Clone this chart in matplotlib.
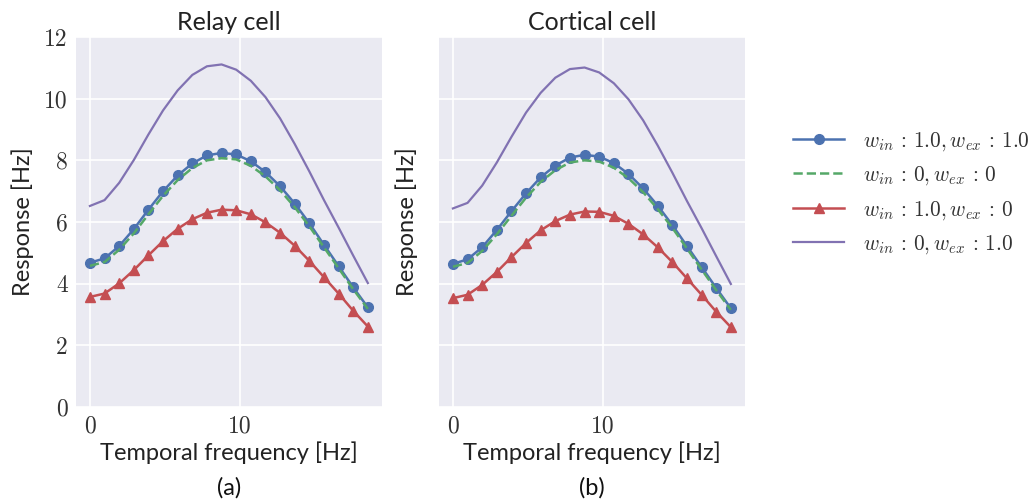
import numpy as np
import matplotlib
matplotlib.use("Agg")
import matplotlib.pyplot as plt

# ---- data ----
freq = np.arange(20) * 0.9766  # temporal frequency [Hz]

relay_both = [4.68, 4.82, 5.22, 5.77, 6.40, 7.00, 7.51, 7.90, 8.16, 8.24,
              8.19, 7.97, 7.62, 7.16, 6.60, 5.96, 5.26, 4.57, 3.88, 3.23]
relay_none = [4.58, 4.70, 5.10, 5.63, 6.25, 6.85, 7.36, 7.75, 8.00, 8.07,
              8.03, 7.82, 7.48, 7.03, 6.48, 5.86, 5.18, 4.50, 3.82, 3.18]
relay_in = [3.57, 3.68, 4.01, 4.44, 4.92, 5.38, 5.78, 6.09, 6.30, 6.40,
            6.38, 6.25, 5.99, 5.65, 5.23, 4.74, 4.21, 3.68, 3.12, 2.61]
relay_ex = [6.52, 6.71, 7.27, 8.01, 8.84, 9.62, 10.27, 10.77, 11.05, 11.11,
            10.94, 10.58, 10.05, 9.36, 8.53, 7.64, 6.71, 5.82, 4.91, 4.02]

cort_both = [4.64, 4.79, 5.18, 5.74, 6.35, 6.93, 7.45, 7.83, 8.09, 8.18,
             8.12, 7.91, 7.56, 7.09, 6.53, 5.90, 5.22, 4.54, 3.86, 3.20]
cort_none = [4.55, 4.67, 5.06, 5.60, 6.20, 6.79, 7.30, 7.68, 7.93, 8.00,
             7.96, 7.76, 7.42, 6.97, 6.42, 5.81, 5.14, 4.46, 3.79, 3.15]
cort_in = [3.53, 3.64, 3.96, 4.38, 4.86, 5.32, 5.73, 6.03, 6.24, 6.34,
           6.33, 6.20, 5.94, 5.60, 5.18, 4.70, 4.17, 3.64, 3.09, 2.59]
cort_ex = [6.44, 6.62, 7.18, 7.93, 8.76, 9.55, 10.19, 10.68, 10.96, 11.01,
           10.85, 10.50, 9.98, 9.30, 8.48, 7.60, 6.68, 5.80, 4.89, 3.99]

labels = [r"$w_{in}\,:\,1.0, w_{ex}\,:\,1.0$", r"$w_{in}\,:\,0, w_{ex}\,:\,0$",
          r"$w_{in}\,:\,1.0, w_{ex}\,:\,0$", r"$w_{in}\,:\,0, w_{ex}\,:\,1.0$"]
titles = ["Relay cell", "Cortical cell"]
captions = ["(a)", "(b)"]
yticks = [0, 2, 4, 6, 8, 10, 12]
xticks = [0, 10]

# ---- style ----
plt.rcParams["mathtext.fontset"] = "cm"
LABEL_FONT = ["Lato", "DejaVu Sans"]
TICK_FONT = "cmr10"
BG = "#EAEAF2"
C_BLUE, C_GREEN, C_RED, C_PURPLE = "#4C72B0", "#55A868", "#C44E52", "#8172B2"

W, H = 1033, 503
fig = plt.figure(figsize=(W / 100, H / 100), dpi=100)

def px_axes(l, r, t, b):
    return fig.add_axes([l / W, 1 - b / H, (r - l) / W, (b - t) / H])

ax1 = px_axes(76, 382, 37, 407)
ax2 = px_axes(439, 745, 37, 407)

datasets = [(relay_both, relay_none, relay_in, relay_ex),
            (cort_both, cort_none, cort_in, cort_ex)]

for i, (ax, (both, none, win, wex)) in enumerate(zip([ax1, ax2], datasets)):
    ax.set_facecolor(BG)
    for s in ax.spines.values():
        s.set_visible(False)
    ax.grid(True, color="white", linewidth=1.2)
    ax.set_axisbelow(True)
    ax.plot(freq, both, color=C_BLUE, marker="o", markersize=7, lw=1.8, label=labels[0])
    ax.plot(freq, none, color=C_GREEN, ls="--", lw=1.8, label=labels[1])
    ax.plot(freq, win, color=C_RED, marker="^", markersize=7, lw=1.8, label=labels[2])
    ax.plot(freq, wex, color=C_PURPLE, lw=1.6, label=labels[3])
    ax.set_ylim(0, 12)
    ax.set_xlim(-0.93, 19.5)
    ax.set_yticks(yticks)
    ax.set_xticks(xticks)
    ax.tick_params(length=0, pad=6)
    ax.set_xticklabels([str(t) for t in xticks], fontfamily=TICK_FONT, fontsize=17, color="#333333")
    if i == 0:
        ax.set_yticklabels([str(t) for t in yticks], fontfamily=TICK_FONT, fontsize=17, color="#333333")
    else:
        ax.set_yticklabels([])
    ax.set_title(titles[i], fontfamily=LABEL_FONT, fontsize=18, color="#222222", pad=5)
    ax.set_xlabel("Temporal frequency [Hz]", fontfamily=LABEL_FONT, fontsize=17, color="#222222", labelpad=3)
    ax.set_ylabel("Response [Hz]", fontfamily=LABEL_FONT, fontsize=17, color="#222222", labelpad=7 if i == 0 else 9)
    cx = (ax.get_position().x0 + ax.get_position().x1) / 2
    fig.text(cx, 1 - 488 / H, captions[i], ha="center", va="center",
             fontfamily=LABEL_FONT, fontsize=17, color="#111111")

handles, labs = ax1.get_legend_handles_labels()
fig.legend(handles, labs, loc="center left", bbox_to_anchor=(774 / W, 1 - 193 / H),
           frameon=False, fontsize=15.3, handlelength=2.4, handletextpad=0.9,
           labelspacing=0.55, labelcolor="#333333")

fig.savefig("out.png", dpi=100)
